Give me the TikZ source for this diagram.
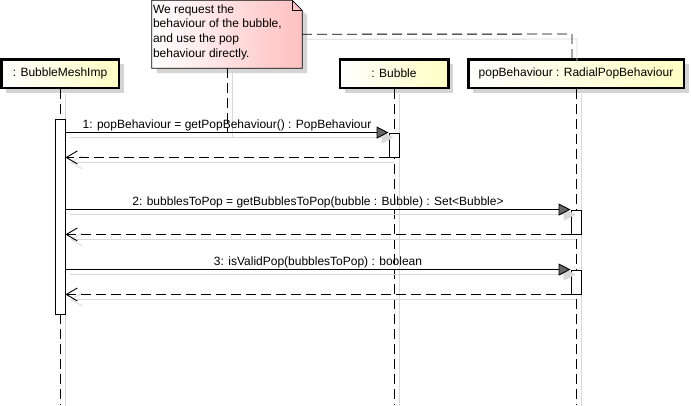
\documentclass[tikz,border=0pt]{standalone}
\usepackage{fontspec}
\setmainfont{Liberation Sans}
\usepackage{tikz}
\usetikzlibrary{calc}
\usetikzlibrary{positioning}
\usetikzlibrary{arrows.meta}
\usetikzlibrary{shadows}
\definecolor{boxyellow}{RGB}{255,255,196}
\definecolor{notepink}{RGB}{255,192,192}

\begin{document}
\begin{tikzpicture}[x=1pt, y=-1pt, font=\fontsize{12}{14}\selectfont]
		\tikzstyle{obj}=[draw=black, line width=2.5pt, rectangle, left color=white, right color=boxyellow, minimum height=28.5pt, inner sep=0pt, drop shadow={shadow xshift=5pt, shadow yshift=-5pt, fill=black!17, opacity=1}]
		\tikzstyle{act}=[draw=black, line width=0.9pt, rectangle, fill=white, minimum width=10pt, inner sep=0pt]
		\tikzstyle{life}=[draw=black, line width=0.9pt, dash pattern=on 10pt off 5pt]
		\tikzstyle{call}=[draw=black, line width=0.9pt, -{Triangle[length=12pt, width=12pt, fill=black!60]}]
		\tikzstyle{reply}=[draw=black, line width=0.9pt, dash pattern=on 10pt off 5pt, -{Straight Barb[length=11pt, width=13pt]}]
		\tikzstyle{ghost}=[draw=black!15, line width=0.9pt, transform canvas={shift={(5pt,-5pt)}}]
		
		\useasboundingbox (0,0) rectangle (691,405);
		
		\node[obj, minimum width=117.5pt] (mesh) at (60,73.5) {: BubbleMeshImp};
		\node[obj, minimum width=108.5pt] (bubble) at (394,73.5) {: Bubble};
		\node[obj, minimum width=215.5pt] (pop) at (576,73.5) {popBehaviour : RadialPopBehaviour};
		\coordinate (meshEnd) at (60,405);
		\coordinate (bubbleEnd) at (394,405);
		\coordinate (popEnd) at (576,405);
		
		\draw[ghost] (mesh.south) -- (meshEnd);
		\draw[ghost] (bubble.south) -- (bubbleEnd);
		\draw[ghost] (pop.south) -- (popEnd);
		\draw[life] (mesh.south) -- (meshEnd);
		\draw[life] (bubble.south) -- (bubbleEnd);
		\draw[life] (pop.south) -- (popEnd);
		
		\node[minimum width=150pt, minimum height=67.5pt, inner sep=0pt] (noteBox) at (227,34.25) {};
		\path[draw=black, line width=0.8pt, left color=white, right color=notepink, drop shadow={shadow xshift=5pt, shadow yshift=-5pt, fill=black!17, opacity=1}]
			(noteBox.north west) -- ($(noteBox.north east)+(-10pt,0)$) -- ($(noteBox.north east)+(0,-10pt)$) -- (noteBox.south east) -- (noteBox.south west) -- cycle;
		\draw[line width=0.8pt] ($(noteBox.north east)+(-10pt,0)$) -- ($(noteBox.north east)+(-10pt,-10pt)$) -- ($(noteBox.north east)+(0,-10pt)$);
		\node[anchor=north west, align=left, inner sep=1pt, font=\fontsize{12}{14.7}\selectfont] (note) at ($(noteBox.north west)+(0,-3pt)$) {We request the\\behaviour of the bubble,\\and use the pop\\behaviour directly.};
		
		\node[act, minimum height=195pt] (meshAct) at (60,216.5) {};
		\node[act, minimum height=24pt] (bubbleAct) at (394,145) {};
		\node[act, minimum height=24pt] (popAct1) at (576,222) {};
		\node[act, minimum height=24pt] (popAct2) at (576,282) {};
		
		\coordinate (noteHook) at (572,34);
		\draw[ghost] (noteBox.south) -- (noteBox.south |- bubbleAct.north);
		\draw[ghost] (noteBox.east) -- (noteHook) -- (noteHook |- pop.north);
		\draw[life] (noteBox.south) -- (noteBox.south |- bubbleAct.north);
		\draw[life] (noteBox.east) -- (noteHook) -- (noteHook |- pop.north);
		
		\draw[ghost, -{Triangle[length=12pt, width=12pt, fill=black!15]}] (meshAct.east |- bubbleAct.north west) -- (bubbleAct.north west);
		\draw[ghost, -{Straight Barb[length=11pt, width=13pt]}] (bubbleAct.south west) -- (meshAct.east |- bubbleAct.south west);
		\draw[ghost, -{Triangle[length=12pt, width=12pt, fill=black!15]}] (meshAct.east |- popAct1.north west) -- (popAct1.north west);
		\draw[ghost, -{Straight Barb[length=11pt, width=13pt]}] (popAct1.south west) -- (meshAct.east |- popAct1.south west);
		\draw[ghost, -{Triangle[length=12pt, width=12pt, fill=black!15]}] (meshAct.east |- popAct2.north west) -- (popAct2.north west);
		\draw[ghost, -{Straight Barb[length=11pt, width=13pt]}] (popAct2.south west) -- (meshAct.east |- popAct2.south west);
		
		\draw[call] (meshAct.east |- bubbleAct.north west) -- node[above=-2pt] (msg1) {1: popBehaviour = getPopBehaviour() : PopBehaviour} (bubbleAct.north west);
		\draw[reply] (bubbleAct.south west) -- (meshAct.east |- bubbleAct.south west);
		\draw[call] (meshAct.east |- popAct1.north west) -- node[above=-2pt] (msg2) {2: bubblesToPop = getBubblesToPop(bubble : Bubble) : Set<Bubble>} (popAct1.north west);
		\draw[reply] (popAct1.south west) -- (meshAct.east |- popAct1.south west);
		\draw[call] (meshAct.east |- popAct2.north west) -- node[above=-2pt] (msg3) {3: isValidPop(bubblesToPop) : boolean} (popAct2.north west);
		\draw[reply] (popAct2.south west) -- (meshAct.east |- popAct2.south west);
		\end{tikzpicture}
\end{document}
